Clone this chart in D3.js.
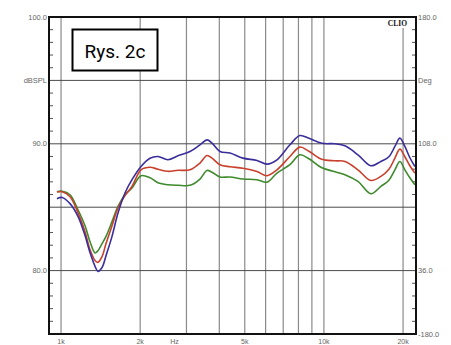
<!DOCTYPE html>
<html><head><meta charset="utf-8">
<script src="https://cdn.jsdelivr.net/npm/d3@7/dist/d3.min.js"></script>
<style>html,body{margin:0;padding:0;background:#fff;overflow:hidden}</style>
</head><body>
<script>
// ---- data ----
const freqs = [965,1010,1082,1160,1234,1289,1347,1382,1432,1483,1563,1647,1751,1862,2015,2180,2338,2551,2786,3094,3377,3591,3752,4023,4391,4920,5564,6071,6628,7425,8102,8770,9826,11010,12020,13470,15090,16470,17670,18620,19450,20320,21230,22180];
const blueDb = [85.67,85.77,85.28,84.28,82.76,81.42,80.34,79.94,80.24,81.18,82.70,84.54,86.12,87.17,88.21,88.86,89.00,88.74,89.06,89.39,89.92,90.31,90.06,89.39,89.27,88.87,88.69,88.40,88.74,89.92,90.65,90.43,90.04,90.00,89.84,89.13,88.27,88.61,88.98,89.79,90.45,89.79,88.90,88.21];
const redDb = [86.20,86.22,85.83,84.57,83.07,81.65,80.79,80.65,81.10,82.13,83.54,84.94,85.91,86.64,87.95,88.15,87.99,87.83,87.91,87.95,88.48,89.08,88.87,88.35,88.19,88.07,87.81,87.48,87.95,89.00,89.74,89.41,88.78,88.66,88.61,87.95,87.11,87.43,87.99,88.87,89.58,88.98,88.27,87.69];
const greenDb = [86.22,86.26,85.98,84.80,83.54,82.28,81.39,81.57,82.13,82.70,83.86,85.06,85.98,86.51,87.48,87.32,86.93,86.77,86.73,86.73,87.22,87.90,87.76,87.38,87.38,87.22,87.17,86.97,87.69,88.35,89.13,88.82,88.11,87.80,87.56,87.03,86.06,86.64,87.13,87.95,88.61,87.95,87.32,86.77];
const series = [
  {name:"green", values: greenDb, color:"#3e8a2c"},
  {name:"red", values: redDb, color:"#c9402c"},
  {name:"blue", values: blueDb, color:"#3a2e9c"}
];
const xGrid = [1000,2000,3000,4000,5000,6000,7000,8000,9000,10000,20000];
const xLabels = [[1000,"1k"],[2000,"2k"],[2700,"Hz"],[5000,"5k"],[10000,"10k"],[20000,"20k"]];
const yMajor = [100,95,90,85,80,75];
const yLeftLabels = [[100,"100.0"],[95,"dBSPL"],[90,"90.0"],[80,"80.0"]];
const yRightLabels = [[100,"180.0"],[95,"Deg"],[90,"108.0"],[80,"36.0"],[75,"-180.0"]];
const title = "Rys. 2c";
const brand = "CLIO";

// ---- layout ----
const W = 451, H = 345;
const L = 49, R = 416, T = 17, B = 334;
const svg = d3.select("body").append("svg").attr("width", W).attr("height", H)
  .style("font-family", "'Liberation Sans', Arial, sans-serif");
svg.append("rect").attr("width", W).attr("height", H).attr("fill", "#fff");

const x = d3.scaleLog().domain([900, 22400]).range([L, R]);
const y = d3.scaleLinear().domain([75, 100]).range([B, T]);

// vertical grid
svg.append("g").selectAll("line").data(xGrid).join("line")
  .attr("x1", d => x(d)).attr("x2", d => x(d)).attr("y1", T).attr("y2", B)
  .attr("stroke", "#8a8a8a").attr("stroke-width", 1.2);
// horizontal grid
svg.append("g").selectAll("line").data(yMajor).join("line")
  .attr("x1", L).attr("x2", R).attr("y1", d => y(d)).attr("y2", d => y(d))
  .attr("stroke", "#4a4a4a").attr("stroke-width", 1);

// minor ticks (1 dB)
const minor = d3.range(76, 100).filter(v => v % 5 !== 0);
svg.append("g").selectAll("line").data(minor).join("line")
  .attr("x1", L).attr("x2", L + 4).attr("y1", d => y(d)).attr("y2", d => y(d))
  .attr("stroke", "#555").attr("stroke-width", 1);
svg.append("g").selectAll("line").data(minor).join("line")
  .attr("x1", R - 4).attr("x2", R).attr("y1", d => y(d)).attr("y2", d => y(d))
  .attr("stroke", "#555").attr("stroke-width", 1);

// curves
const line = d3.line().x((d, i) => x(freqs[i])).y(d => y(d)).curve(d3.curveCatmullRom.alpha(0.5));
svg.append("g").selectAll("path").data(series).join("path")
  .attr("d", d => line(d.values)).attr("fill", "none")
  .attr("stroke", d => d.color).attr("stroke-width", 1.6);

// CLIO label with white background
svg.append("rect").attr("x", 385).attr("y", T + 1).attr("width", 24).attr("height", 10).attr("fill", "#fff");
svg.append("text").attr("x", 407).attr("y", T + 9).attr("text-anchor", "end")
  .attr("font-family", "'Liberation Serif', 'DejaVu Serif', serif").attr("font-weight", "bold")
  .attr("font-size", 7.5).attr("fill", "#111").text(brand);

// frame
svg.append("rect").attr("x", L).attr("y", T).attr("width", R - L).attr("height", B - T)
  .attr("fill", "none").attr("stroke", "#111").attr("stroke-width", 2);

// left labels
svg.append("g").selectAll("text").data(yLeftLabels).join("text")
  .attr("x", L - 2).attr("y", d => y(d[0]) + 2.5).attr("text-anchor", "end")
  .attr("font-size", 7.5).attr("fill", "#666").text(d => d[1]);
// right labels
svg.append("g").selectAll("text").data(yRightLabels).join("text")
  .attr("x", R + 2).attr("y", d => y(d[0]) + 2.5).attr("text-anchor", "start")
  .attr("font-size", 7.5).attr("fill", "#666").text(d => d[1]);
// bottom labels
svg.append("g").selectAll("text").data(xLabels).join("text")
  .attr("x", d => x(d[0])).attr("y", 343.5).attr("text-anchor", "middle")
  .attr("font-size", 7).attr("fill", "#666").text(d => d[1]);

// title box
svg.append("rect").attr("x", 72.5).attr("y", 29.5).attr("width", 85).attr("height", 41)
  .attr("fill", "#fff").attr("stroke", "#000").attr("stroke-width", 2);
svg.append("text").attr("x", 115).attr("y", 57.5).attr("text-anchor", "middle")
  .attr("font-family", "Roboto, 'Noto Sans', sans-serif").attr("font-size", 19)
  .attr("fill", "#000").text(title);
</script>
</body></html>
